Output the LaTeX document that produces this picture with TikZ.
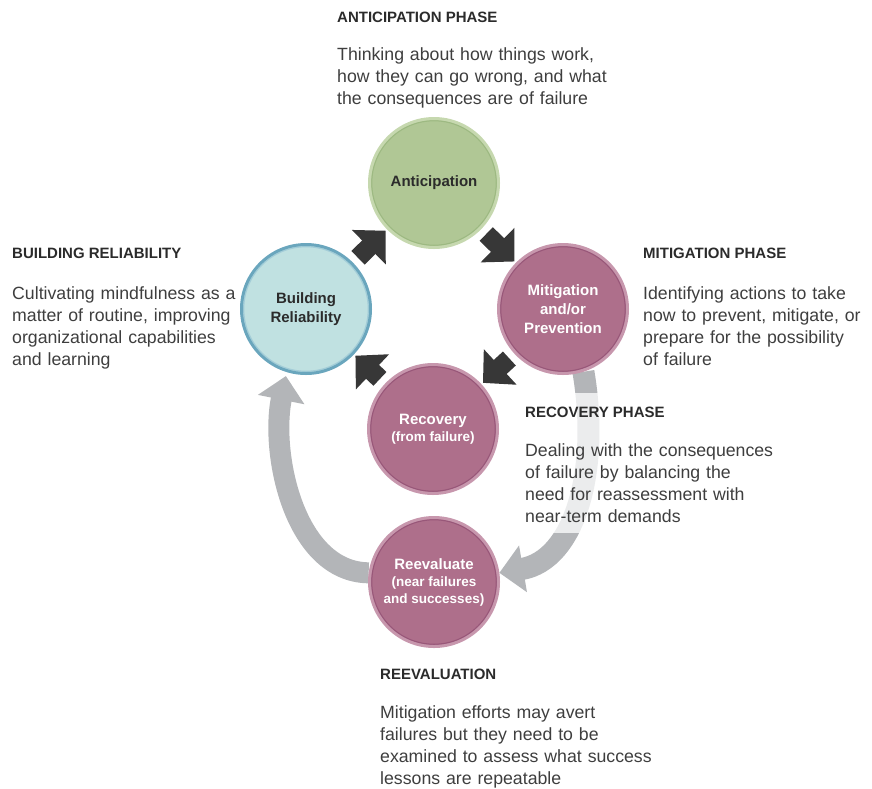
\documentclass[tikz,border=0pt]{standalone}
\usepackage{fontspec}
\setmainfont{Liberation Sans}
\usetikzlibrary{arrows.meta,backgrounds}

\definecolor{antfill}{HTML}{B0C795}
\definecolor{antring}{HTML}{C6D8AF}
\definecolor{antline}{HTML}{9DB982}
\definecolor{buildfill}{HTML}{C0E1E1}
\definecolor{buildring}{HTML}{6AA6BD}
\definecolor{buildline}{HTML}{A3CDD8}
\definecolor{mauvefill}{HTML}{AE6F8B}
\definecolor{mauvering}{HTML}{C797AD}
\definecolor{mauveline}{HTML}{985779}
\definecolor{arrowdark}{HTML}{373737}
\definecolor{arrowgray}{HTML}{B3B5B8}
\definecolor{headgray}{HTML}{2B2B2B}
\definecolor{bodygray}{HTML}{3E3E3E}

\begin{document}
\begin{tikzpicture}[x=1pt,y=-1pt,
	phase/.style={circle,minimum size=129pt,line width=3pt,align=center,
		font=\fontsize{15}{19}\selectfont\bfseries},
	ringed/.style n args={3}{fill=#1,draw=#2,path picture={
		\draw[#3,line width=1.2pt] (path picture bounding box.center) circle (62.3pt);}},
	darkarrow/.style={draw=arrowdark,line width=19pt,shorten <=7pt,shorten >=2pt,
		-{Triangle[width=47pt,length=23.5pt]}},
	grayarrow/.style={draw=arrowgray,line width=22pt,
		-{Triangle[width=46pt,length=24pt]}},
	head/.style={anchor=base west,inner sep=0pt,text=headgray,
		font=\fontsize{15}{18}\selectfont\bfseries},
	body/.style={anchor=base west,inner sep=0pt,text=bodygray,align=left,
		text width=330pt,font=\fontsize{17.7}{22}\selectfont}]
	
	\useasboundingbox (0,0) rectangle (872,788);
	
	\node[phase,ringed={antfill}{antring}{antline},text=headgray] (antic) at (434,183) {Anticipation};
	\node[phase,ringed={buildfill}{buildring}{buildline},text=headgray] (build) at (306,309) {Building\\Reliability};
	\node[phase,ringed={mauvefill}{mauvering}{mauveline},text=white] (mitig) at (563,309) {Mitigation\\and/or\\Prevention};
	\node[phase,ringed={mauvefill}{mauvering}{mauveline},text=white,font=\fontsize{15}{17}\selectfont\bfseries] (recov) at (433,429)
		{Recovery\\\fontsize{13.5}{17}\selectfont(from failure)};
	\node[phase,ringed={mauvefill}{mauvering}{mauveline},text=white,font=\fontsize{15}{17}\selectfont\bfseries] (reeval) at (434,582)
		{Reevaluate\\\fontsize{13.5}{17}\selectfont(near failures\\\fontsize{13.5}{17}\selectfont and successes)};
	
	% big loops behind the circles
	\begin{scope}[on background layer]
		\draw[grayarrow] (mitig.-72) .. controls (600,470) and (575,560) .. (reeval.8);
		\draw[grayarrow,line width=21pt,shorten >=4pt] (reeval.172) .. controls (295,572) and (270,455) .. (build.-107);
		\fill[white,fill opacity=.75] (519,393) rectangle (775,533);
	\end{scope}
	
	\draw[darkarrow] (build) -- (antic);
	\draw[darkarrow] (antic) -- (mitig);
	\draw[darkarrow] (mitig) -- (recov);
	\draw[darkarrow] (recov) -- (build);
	
	\node[head] (anthead) at (337,22) {ANTICIPATION PHASE};
	\node[body] (antbody) at (337,60) {Thinking about how things work,\\how they can go wrong, and what\\the consequences are of failure};
	\node[head] (buildhead) at (12,258) {BUILDING RELIABILITY};
	\node[body] (buildbody) at (12,299) {Cultivating mindfulness as a\\matter of routine, improving\\organizational capabilities\\and learning};
	\node[head] (mitighead) at (643,258) {MITIGATION PHASE};
	\node[body] (mitigbody) at (643,299) {Identifying actions to take\\now to prevent, mitigate, or\\prepare for the possibility\\of failure};
	\node[head] (recohead) at (525,417) {RECOVERY PHASE};
	\node[body] (recobody) at (525,456) {Dealing with the consequences\\of failure by balancing the\\need for reassessment with\\near-term demands};
	\node[head] (reevhead) at (380,679) {REEVALUATION};
	\node[body] (reevbody) at (380,718) {Mitigation efforts may avert\\failures but they need to be\\examined to assess what success\\lessons are repeatable};
\end{tikzpicture}
\end{document}
